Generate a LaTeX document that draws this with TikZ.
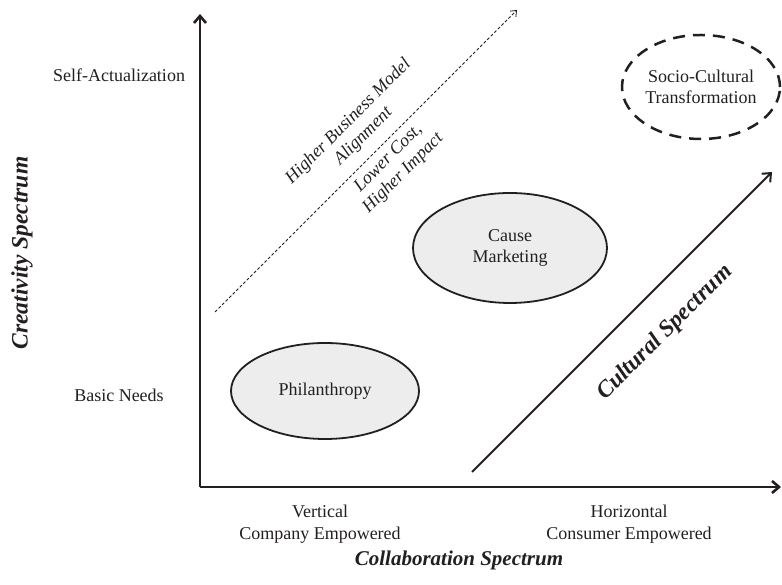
\documentclass[tikz,border=0pt]{standalone}
\usepackage{fontspec}
\setmainfont{Liberation Serif}
\usetikzlibrary{arrows.meta,shapes.geometric}
\definecolor{ink}{HTML}{231F20}
\begin{document}
\begin{tikzpicture}[x=1pt,y=1pt,color=ink,
  axis/.style={line width=2.6pt,-{Straight Barb[length=7pt,width=12pt]}},
  bubble/.style={ellipse,draw,line width=1.8pt,fill=black!7,align=center,font=\fontsize{18}{21}\selectfont,inner sep=0pt},
  lbl/.style={align=center,font=\fontsize{18}{22}\selectfont},
  diag/.style={align=center,rotate=45,font=\fontsize{18}{21}\selectfont\itshape},
  title/.style={font=\fontsize{21}{24}\selectfont\bfseries\itshape}]
\useasboundingbox (0,0) rectangle (782,585);
% axes
\coordinate (origin) at (200,98);
\coordinate (ytop) at (200,571);
\coordinate (xend) at (781,98);
\draw[axis] (origin) -- (ytop);
\draw[axis] (origin) -- (xend);
% axis labels
\node[lbl] (selfact) at (119,510) {Self-Actualization};
\node[lbl] (basic) at (119,190) {Basic Needs};
\node[title,rotate=90,font=\fontsize{23.5}{28}\selectfont\bfseries\itshape] (creat) at (22,332) {Creativity Spectrum};
\node[lbl] (vert) at (320,61) {Vertical\\Company Empowered};
\node[lbl] (horiz) at (629,61) {Horizontal\\Consumer Empowered};
\node[title,font=\fontsize{21}{24}\selectfont\bfseries\itshape] (collab) at (459,25) {Collaboration Spectrum};
% ellipses
\node[bubble,minimum width=188pt,minimum height=96pt] (phil) at (325,194) {Philanthropy};
\node[bubble,minimum width=194pt,minimum height=110pt] (cause) at (510,337) {Cause\\Marketing};
\node[ellipse,draw,line width=2.5pt,dash pattern=on 12pt off 8pt,minimum width=158pt,minimum height=104pt,align=center,font=\fontsize{18}{21}\selectfont,inner sep=0pt] (socio) at (701,498) {Socio-Cultural\\Transformation};
% dashed arrow
\coordinate (dstart) at (215,273);
\coordinate (dend) at (517,575);
\draw[line width=0.8pt,dash pattern=on 3pt off 2pt,-{Straight Barb[length=5pt,width=8pt]}] (dstart) -- (dend);
\node[diag] (hbm) at (356,456) {Higher Business Model\\Alignment};
\node[diag] (lc) at (396,419) {Lower Cost,\\Higher Impact};
% cultural arrow
\coordinate (cstart) at (472,113);
\coordinate (cend) at (772,413);
\draw[line width=2pt,-{Straight Barb[length=7pt,width=12pt]}] (cstart) -- (cend);
\node[title,rotate=45,font=\fontsize{23.5}{27}\selectfont\bfseries\itshape] (cult) at (665,252) {Cultural Spectrum};
\end{tikzpicture}
\end{document}
